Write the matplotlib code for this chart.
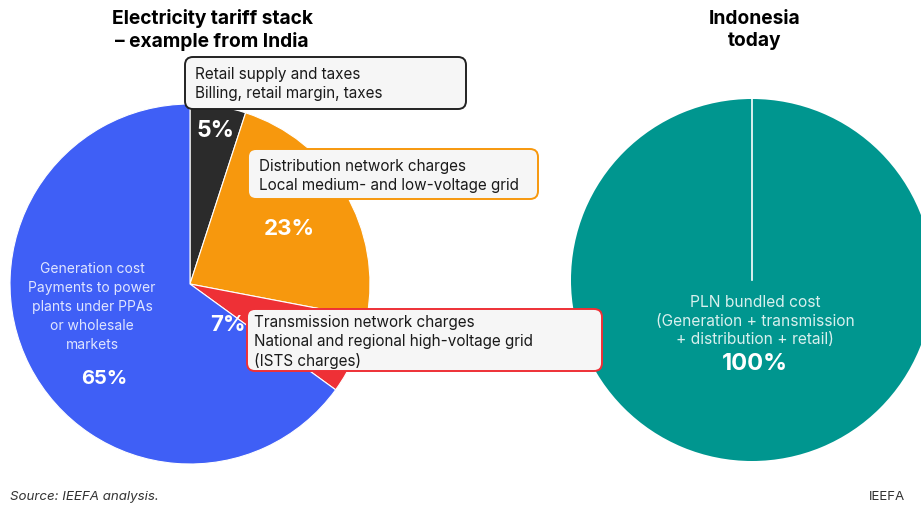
import numpy as np
import matplotlib
matplotlib.use("Agg")
import matplotlib.pyplot as plt
from matplotlib.patches import FancyBboxPatch

plt.rcParams["font.family"] = ["Inter", "DejaVu Sans"]

# data
india_labels = ["Retail supply and taxes", "Distribution network charges",
                "Transmission network charges", "Generation cost"]
india_shares = [5, 23, 7, 65]
india_colors = ["#2b2b2b", "#f7980d", "#ee3036", "#3f5ff6"]

indo_labels = ["PLN bundled cost"]
indo_shares = [100]
indo_colors = ["#00968f"]

W, H = 921, 506


def py(y):
    # pixel row (top origin) -> data y
    return H - y


fig = plt.figure(figsize=(9.21, 5.06), dpi=100)
ax = fig.add_axes([0, 0, 1, 1])

# left pie
ax.pie(india_shares, colors=india_colors, startangle=90, counterclock=False,
       center=(190, py(285)), radius=180, frame=True,
       wedgeprops=dict(edgecolor="white", linewidth=0.8))

# right pie
ax.pie(indo_shares, colors=indo_colors, startangle=90, counterclock=False,
       center=(752, py(281)), radius=181, frame=True,
       wedgeprops=dict(edgecolor="none"))
ax.plot([752, 752], [py(281), py(100)], color="white", lw=1.2, zorder=3)

ax.set_xlim(0, W)
ax.set_ylim(0, H)
ax.axis("off")

# titles
ax.text(212, py(30), "Electricity tariff stack\n– example from India", ha="center",
        va="center", fontsize=13.8, fontweight="bold", linespacing=1.3)
ax.text(755, py(30), "Indonesia\ntoday", ha="center", va="center",
        fontsize=13.8, fontweight="bold", linespacing=1.3)


def callout(x0, y0, x1, y1, ec, lines, tx, ty):
    box = FancyBboxPatch((x0, py(y1)), x1 - x0, y1 - y0,
                         boxstyle="round,pad=0,rounding_size=8",
                         fc="#f6f6f6", ec=ec, lw=1.4, zorder=5)
    ax.add_patch(box)
    ax.text(tx, py(ty), "\n".join(lines), ha="left", va="center", fontsize=11,
            color="#1a1a1a", linespacing=1.32, zorder=6)


callout(185, 58, 466, 110, "#222222",
        ["Retail supply and taxes", "Billing, retail margin, taxes"], 195, 84)
callout(248, 150, 538, 200, "#f7980d",
        ["Distribution network charges", "Local medium- and low-voltage grid"], 259, 176)
callout(247, 310, 602, 372, "#ee3036",
        ["Transmission network charges", "National and regional high-voltage grid",
         "(ISTS charges)"], 254, 342)

# percentage labels
pct_style = dict(ha="center", va="center", fontweight="bold", color="white", zorder=6)
ax.text(215, py(131), f"{india_shares[0]}%", fontsize=16.5, **pct_style)
ax.text(289, py(229), f"{india_shares[1]}%", fontsize=16, **pct_style)
ax.text(228, py(325), f"{india_shares[2]}%", fontsize=16, **pct_style)
ax.text(104, py(379), f"{india_shares[3]}%", fontsize=14.5, **pct_style)
ax.text(755, py(364), f"{indo_shares[0]}%", fontsize=17, **pct_style)

ax.text(92, py(307), "Generation cost\nPayments to power\nplants under PPAs\nor wholesale\nmarkets",
        ha="center", va="center", fontsize=10, color="#dfe5ff", linespacing=1.45)
ax.text(755, py(321), "PLN bundled cost\n(Generation + transmission\n+ distribution + retail)",
        ha="center", va="center", fontsize=11.2, color="#d8f0ee", linespacing=1.27)

ax.text(10, py(497), "Source: IEEFA analysis.", ha="left", va="center",
        fontsize=9.6, style="italic", color="#333333")
ax.text(905, py(497), "IEEFA", ha="right", va="center", fontsize=9.6, color="#333333")

fig.savefig("out.png", dpi=100)
